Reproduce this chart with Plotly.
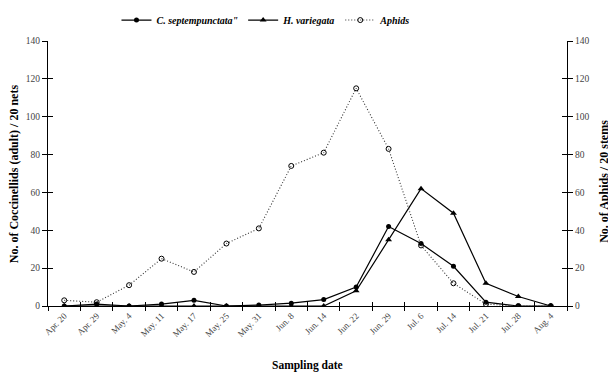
import plotly.graph_objects as go

dates = ["Apr. 20", "Apr. 29", "May. 4", "May. 11", "May. 17", "May. 25", "May. 31", "Jun. 8",
         "Jun. 14", "Jun. 22", "Jun. 29", "Jul. 6", "Jul. 14", "Jul. 21", "Jul. 28", "Aug. 4"]
c_sept = [0, 1, 0, 1, 3, 0, 0.5, 1.5, 3.4, 10, 42, 33, 21, 2, 0, 0]
h_var = [0, 0, 0, 0, 0, 0, 0, 0, 0, 8, 35, 62, 49, 12, 5, 0]
aphids = [3, 2, 11, 25, 18, 33, 41, 74, 81, 115, 83, 32, 12, 1, 0, 0]
y_ticks = [0, 20, 40, 60, 80, 100, 120, 140]

idx = list(range(len(dates)))
bounds = [i - 0.5 for i in range(len(dates) + 1)]
FONT = "Liberation Serif"

fig = go.Figure()
fig.add_trace(go.Scatter(x=idx, y=c_sept, name='C. septempunctata"', mode="lines+markers",
                         line=dict(color="black", width=1.2),
                         marker=dict(symbol="circle", size=5, color="black")))
fig.add_trace(go.Scatter(x=idx, y=h_var, name="H. variegata", mode="lines+markers",
                         line=dict(color="black", width=1.2),
                         marker=dict(symbol="triangle-up", size=6, color="black")))
fig.add_trace(go.Scatter(x=idx, y=aphids, name="Aphids", mode="lines+markers", yaxis="y2",
                         line=dict(color="#333", width=1.1, dash="1px,2px"),
                         marker=dict(symbol="circle-open", size=5, color="black",
                                     line=dict(width=1))))

tickfont = dict(family=FONT, size=9.5, color="#444")
common_y = dict(range=[0, 140], tickvals=y_ticks, showgrid=False, zeroline=False,
                showline=True, linecolor="black", linewidth=1.3, tickcolor="black",
                tickwidth=1.2, ticklen=5, tickfont=tickfont)
no_font_y = {k: v for k, v in common_y.items() if k != "tickfont"}

# page body has an 8px offset, so margins are compensated
fig.update_layout(
    width=616, height=373,
    margin=dict(l=40, r=57, t=33, b=75, autoexpand=False),
    paper_bgcolor="white", plot_bgcolor="white",
    showlegend=True,
    legend=dict(orientation="h", x=0.42, xanchor="center",
                y=1.079, yanchor="middle",
                font=dict(family=FONT, size=10, color="black", weight="bold", style="italic"),
                itemwidth=30, tracegroupgap=0, bgcolor="rgba(0,0,0,0)"),
    xaxis=dict(range=[-0.5, 15.5], tickvals=idx, ticktext=dates, ticks="",
               tickangle=-45, showgrid=False, zeroline=False, showline=True,
               linecolor="black", linewidth=1.3,
               tickfont=dict(family=FONT, size=9, color="#444")),
    xaxis2=dict(overlaying="x", anchor="y", range=[-0.5, 15.5], tickvals=bounds,
                ticks="outside", ticklen=4, tickwidth=1.2, tickcolor="black",
                showticklabels=False, showgrid=False, zeroline=False, showline=False),
    xaxis3=dict(overlaying="x", anchor="y", range=[-0.5, 15.5], tickvals=bounds,
                ticks="inside", ticklen=4, tickwidth=1.2, tickcolor="black",
                showticklabels=False, showgrid=False, zeroline=False, showline=False),
    yaxis=dict(side="left", ticks="outside", **common_y),
    yaxis2=dict(side="right", overlaying="y", anchor="x", ticks="outside", **common_y),
    yaxis3=dict(side="left", overlaying="y", anchor="x", ticks="inside", showticklabels=False,
                **no_font_y),
    yaxis4=dict(side="right", overlaying="y", anchor="x", ticks="inside", showticklabels=False,
                **no_font_y),
)

# invisible placeholder traces so the overlay tick axes get drawn
for xa, ya in [("x2", "y"), ("x3", "y"), ("x", "y3"), ("x", "y4")]:
    fig.add_trace(go.Scatter(x=[None], y=[None], xaxis=xa, yaxis=ya, showlegend=False,
                             hoverinfo="skip"))

fig.add_annotation(text="<b>No. of Coccinellids (adult) / 20 nets</b>", xref="paper", yref="paper",
                   x=-0.066, y=0.5, xanchor="center", yanchor="middle", textangle=-90,
                   showarrow=False, font=dict(family=FONT, size=12, color="black"))
fig.add_annotation(text="<b>No. of Aphids / 20 stems</b>", xref="paper", yref="paper",
                   x=1.072, y=0.47, xanchor="center", yanchor="middle", textangle=-90,
                   showarrow=False, font=dict(family=FONT, size=12, color="black"))
fig.add_annotation(text="<b>Sampling date</b>", xref="paper", yref="paper",
                   x=0.5, y=-0.223, xanchor="center", yanchor="middle",
                   showarrow=False, font=dict(family=FONT, size=11.5, color="black"))

fig.write_html("out.html")
